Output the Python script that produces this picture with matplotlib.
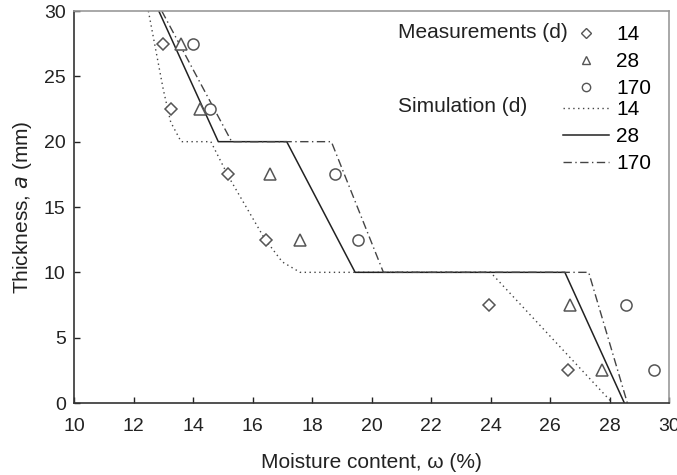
import matplotlib
matplotlib.use("Agg")
import matplotlib.pyplot as plt
from matplotlib.lines import Line2D

plt.rcParams['font.family'] = ['Liberation Sans', 'DejaVu Sans']

# Measurements: thickness a (mm) vs moisture content (%)
meas_a = [27.5, 22.5, 17.5, 12.5, 7.5, 2.5]
meas_14 = [13.0, 13.26, 15.18, 16.45, 23.95, 26.6]
meas_28 = [13.6, 14.24, 16.59, 17.6, 26.67, 27.75]
meas_170 = [14.0, 14.57, 18.77, 19.55, 28.55, 29.5]

# Simulations
sim14_w = [12.5, 12.75, 13.0, 13.25, 13.6, 14.6, 15.2, 16.4, 17.0, 17.6, 24.0, 28.1]
sim14_a = [30, 27, 24, 21.5, 20, 20, 17.3, 12.6, 10.8, 10, 10, 0]
sim28_w = [12.85, 14.85, 17.15, 19.45, 26.5, 28.5]
sim28_a = [30, 20, 20, 10, 10, 0]
sim170_w = [12.95, 15.3, 18.65, 20.4, 27.3, 28.6]
sim170_a = [30, 20, 20, 10, 10, 0]

labels = ["14", "28", "170"]

fig = plt.figure(figsize=(6.77, 4.75), dpi=100)
ax = fig.add_axes([74/677, 1-403/475, (669-74)/677, (403-11)/475])

mcol = '#555555'
dot_ls = (0, (1, 2.5))
dd_ls = (0, (6, 2.5, 1, 2.5))
ax.plot(sim14_w, sim14_a, linestyle=dot_ls, color='#444444', lw=1.0)
ax.plot(sim28_w, sim28_a, linestyle='-', color='#222222', lw=1.1)
ax.plot(sim170_w, sim170_a, linestyle=dd_ls, color='#444444', lw=1.0)

ax.plot(meas_14, meas_a, linestyle='none', marker='D', ms=6, mfc='white', mec=mcol, mew=1.1)
ax.plot(meas_28, meas_a, linestyle='none', marker='^', ms=8, mfc='white', mec=mcol, mew=1.1)
ax.plot(meas_170, meas_a, linestyle='none', marker='o', ms=8, mfc='white', mec=mcol, mew=1.1)

ax.set_xlim(10, 30)
ax.set_ylim(0, 30)
ax.set_xticks(range(10, 31, 2))
ax.set_yticks(range(0, 31, 5))
ax.tick_params(direction='in', length=4, width=1, labelsize=14, colors='#222222',
               top=False, right=False)
ax.tick_params(axis='x', pad=11)
ax.tick_params(axis='y', pad=6)
for s in ['left', 'bottom']:
    ax.spines[s].set_color('#333333')
    ax.spines[s].set_linewidth(1.2)
for s in ['top', 'right']:
    ax.spines[s].set_color('#999999')
    ax.spines[s].set_linewidth(1.2)

ax.set_xlabel('Moisture content, ω (%)', fontsize=15, color='#222222', labelpad=13)
ax.set_ylabel('Thickness, $\\mathit{a}$ (mm)', fontsize=15, color='#222222', labelpad=7)

# Legends
h1 = [Line2D([], [], linestyle='none', marker='D', ms=5, mfc='white', mec=mcol, mew=1.0),
      Line2D([], [], linestyle='none', marker='^', ms=6, mfc='white', mec=mcol, mew=1.0),
      Line2D([], [], linestyle='none', marker='o', ms=6, mfc='white', mec=mcol, mew=1.0)]
leg1 = ax.legend(h1, labels, loc='upper left', bbox_to_anchor=(563/677, 1-25/475),
                 bbox_transform=fig.transFigure, frameon=False, fontsize=15,
                 borderpad=0, borderaxespad=0, handlelength=2.2, handletextpad=0.35,
                 labelspacing=0.38)
ax.add_artist(leg1)
h2 = [Line2D([], [], linestyle=dot_ls, color='#444444', lw=1.0),
      Line2D([], [], linestyle='-', color='#222222', lw=1.1),
      Line2D([], [], linestyle=dd_ls, color='#444444', lw=1.0)]
leg2 = ax.legend(h2, labels, loc='upper left', bbox_to_anchor=(563/677, 1-100/475),
                 bbox_transform=fig.transFigure, frameon=False, fontsize=15,
                 borderpad=0, borderaxespad=0, handlelength=2.2, handletextpad=0.35,
                 labelspacing=0.38)

fig.text(398/677, 1-33/475, 'Measurements (d)', fontsize=15, va='center', ha='left', color='#222222')
fig.text(398/677, 1-106/475, 'Simulation (d)', fontsize=15, va='center', ha='left', color='#222222')

fig.savefig('out.png', dpi=100)
